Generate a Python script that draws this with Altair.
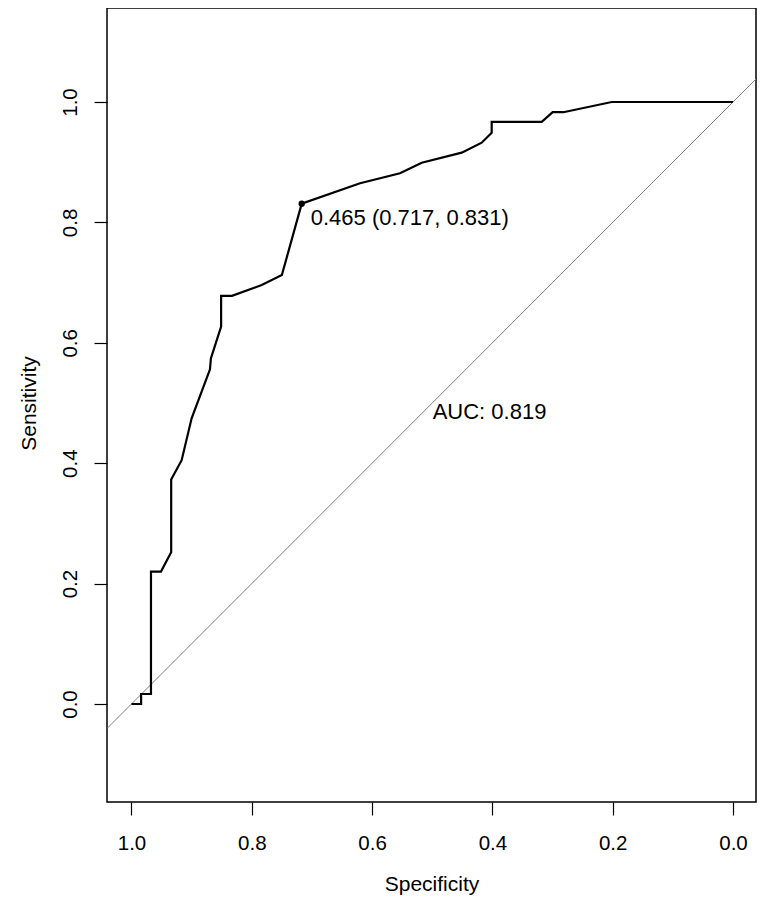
import altair as alt
import pandas as pd

# ROC curve (specificity, sensitivity)
spec = [1.0, 0.984, 0.984, 0.9676, 0.9676, 0.951, 0.934, 0.934, 0.9166, 0.900,
        0.8695, 0.868, 0.851, 0.851, 0.833, 0.7835, 0.750, 0.717, 0.620, 0.5536,
        0.5175, 0.451, 0.4178, 0.4012, 0.4012, 0.318, 0.2998, 0.282, 0.2017, 0.0]
sens = [0.0, 0.0, 0.0166, 0.0166, 0.22, 0.22, 0.252, 0.373, 0.405, 0.4745,
        0.556, 0.574, 0.627, 0.678, 0.678, 0.696, 0.7126, 0.831, 0.865, 0.8815,
        0.899, 0.9158, 0.9324, 0.949, 0.967, 0.967, 0.983, 0.983, 1.0, 1.0]

# best threshold
thr_spec = [0.717]
thr_sens = [0.831]
thr_label = ["0.465 (0.717, 0.831)"]

auc_label = ["AUC: 0.819"]

# diagonal reference line (sens = 1 - spec), spanning the plot
diag_spec = [1.0407, -0.0382]

ticks = [0.0, 0.2, 0.4, 0.6, 0.8, 1.0]
X_DOM = [-0.0382, 1.0407]
Y_DOM = [-0.1628, 1.1561]

FONT = "Liberation Sans"

roc = pd.DataFrame({"spec": spec, "sens": sens, "i": list(range(len(spec)))})
diag = pd.DataFrame({"spec": diag_spec, "sens": [1 - s for s in diag_spec]})
thr = pd.DataFrame({"spec": thr_spec, "sens": thr_sens, "label": thr_label})
auc = pd.DataFrame({"spec": [0.4993], "sens": [0.4856], "label": auc_label})

xscale = alt.Scale(domain=X_DOM, reverse=True, nice=False, zero=False)
yscale = alt.Scale(domain=Y_DOM, nice=False, zero=False)

xaxis = alt.Axis(values=ticks, format=".1f", title="Specificity", grid=False,
                 domain=False, tickSize=13, tickColor="black", tickWidth=1.2,
                 labelFontSize=20.5, labelFont=FONT, labelColor="black",
                 labelBaseline="alphabetic", labelPadding=34, labelFlush=False,
                 titleFont=FONT, titleFontSize=21, titleFontWeight="normal",
                 titleColor="black", titleBaseline="alphabetic", titleY=88,
                 titleX=324.5, titleAlign="center")
yaxis = alt.Axis(values=ticks, format=".1f", title="Sensitivity", grid=False,
                 domain=False, tickSize=13, tickColor="black", tickWidth=1.2,
                 labelFontSize=20.5, labelFont=FONT, labelColor="black",
                 labelAngle=270, labelAlign="center", labelBaseline="alphabetic",
                 labelPadding=17.5, labelFlush=False,
                 titleFont=FONT, titleFontSize=21, titleFontWeight="normal",
                 titleColor="black", titleAngle=270, titleBaseline="alphabetic",
                 titleAlign="center", titleX=-72, titleY=395)

diag_layer = alt.Chart(diag).mark_line(color="#808080", strokeWidth=1, clip=True).encode(
    x=alt.X("spec:Q", scale=xscale, axis=xaxis),
    y=alt.Y("sens:Q", scale=yscale, axis=yaxis),
)

roc_layer = alt.Chart(roc).mark_line(color="black", strokeWidth=2.2, clip=True).encode(
    x=alt.X("spec:Q", scale=xscale),
    y=alt.Y("sens:Q", scale=yscale),
    order="i:Q",
)

pt_layer = alt.Chart(thr).mark_point(filled=True, color="black", size=40, opacity=1).encode(
    x=alt.X("spec:Q", scale=xscale),
    y=alt.Y("sens:Q", scale=yscale),
)

thr_text = alt.Chart(thr).mark_text(align="left", baseline="middle", dx=9, dy=14,
                                    font=FONT, fontSize=22, color="black").encode(
    x=alt.X("spec:Q", scale=xscale),
    y=alt.Y("sens:Q", scale=yscale),
    text="label:N",
)

auc_text = alt.Chart(auc).mark_text(align="left", baseline="middle",
                                    font=FONT, fontSize=22, color="black").encode(
    x=alt.X("spec:Q", scale=xscale),
    y=alt.Y("sens:Q", scale=yscale),
    text="label:N",
)

chart = alt.layer(diag_layer, roc_layer, pt_layer, thr_text, auc_text).properties(
    width=649, height=794,
    autosize=alt.AutoSizeParams(type="none"),
    padding={"left": 99, "top": 0, "right": 1, "bottom": 96},
    background="white",
).configure_view(stroke="black", strokeWidth=1.5)

chart.save("out.html", embed_options={"renderer": "svg", "actions": False})
